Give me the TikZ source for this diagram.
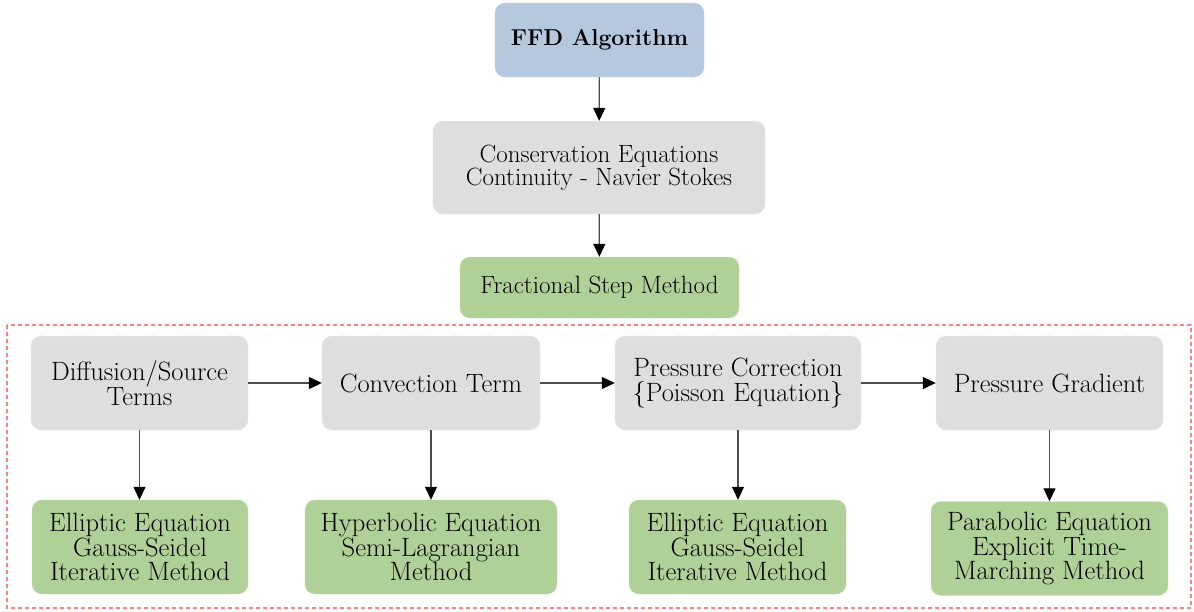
\documentclass[tikz,border=0pt]{standalone}
\usetikzlibrary{arrows.meta}
\definecolor{boxblue}{HTML}{B5C8DE}
\definecolor{boxgray}{HTML}{DEDEDE}
\definecolor{boxgreen}{HTML}{AFD096}
\definecolor{dashred}{HTML}{FF7F7F}
\tikzset{
  base/.style={rounded corners=10pt, inner sep=0pt, align=center, text=black, font=\fontsize{26.5}{24.5}\selectfont},
  bluebox/.style={base, fill=boxblue, draw=boxblue!80!white},
  graybox/.style={base, fill=boxgray, draw=boxgray!70!white},
  greenbox/.style={base, fill=boxgreen, draw=boxgreen!70!white},
  conn/.style={draw=black!70, line width=1.2pt, -{Triangle[length=13pt,width=12pt,color=black]}},
}
\begin{document}
\begin{tikzpicture}[x=1pt,y=-1pt]
\useasboundingbox (0,0) rectangle (1194,611);
\node[bluebox, minimum width=209pt, minimum height=74pt, font=\fontsize{23}{27}\selectfont\bfseries] (ffd) at (599.5,40) {FFD Algorithm};
\node[graybox, minimum width=332pt, minimum height=93pt, font=\fontsize{25}{23}\selectfont] (cons) at (599,167.5) {Conservation Equations\\Continuity - Navier Stokes};
\node[greenbox, minimum width=279pt, minimum height=61pt, font=\fontsize{25}{23}\selectfont] (frac) at (599.5,287.5) {Fractional Step Method};
\draw[dashred, line width=1.8pt, dash pattern=on 4pt off 3pt] (7,325) rectangle (1191,608);
\node[graybox, minimum width=217pt, minimum height=94pt] (diff) at (139.5,383) {Diffusion/Source\\Terms};
\node[graybox, minimum width=218pt, minimum height=94pt] (conv) at (431,383) {Convection Term};
\node[graybox, minimum width=246pt, minimum height=94pt] (pcor) at (738,383) {Pressure Correction\\\{Poisson Equation\}};
\node[graybox, minimum width=227pt, minimum height=94pt] (pgrad) at (1049.5,383) {Pressure Gradient};
\node[greenbox, minimum width=216pt, minimum height=94pt] (ell1) at (140,547) {Elliptic Equation\\Gauss-Seidel\\Iterative Method};
\node[greenbox, minimum width=252pt, minimum height=94pt] (hyp) at (431,547) {Hyperbolic Equation\\Semi-Lagrangian\\Method};
\node[greenbox, minimum width=217pt, minimum height=94pt] (ell2) at (737.5,547) {Elliptic Equation\\Gauss-Seidel\\Iterative Method};
\node[greenbox, minimum width=237pt, minimum height=94pt] (para) at (1049.5,548.5) {Parabolic Equation\\Explicit Time-\\Marching Method};
\draw[conn] (ffd) -- (cons);
\draw[conn] (cons) -- (frac);
\draw[conn] (diff) -- (conv);
\draw[conn] (conv) -- (pcor);
\draw[conn] (pcor) -- (pgrad);
\draw[conn] (diff.south) -- (ell1.north -| diff.south);
\draw[conn] (conv) -- (hyp);
\draw[conn] (pcor.south) -- (ell2.north -| pcor.south);
\draw[conn] (pgrad) -- (para);
\end{tikzpicture}
\end{document}
